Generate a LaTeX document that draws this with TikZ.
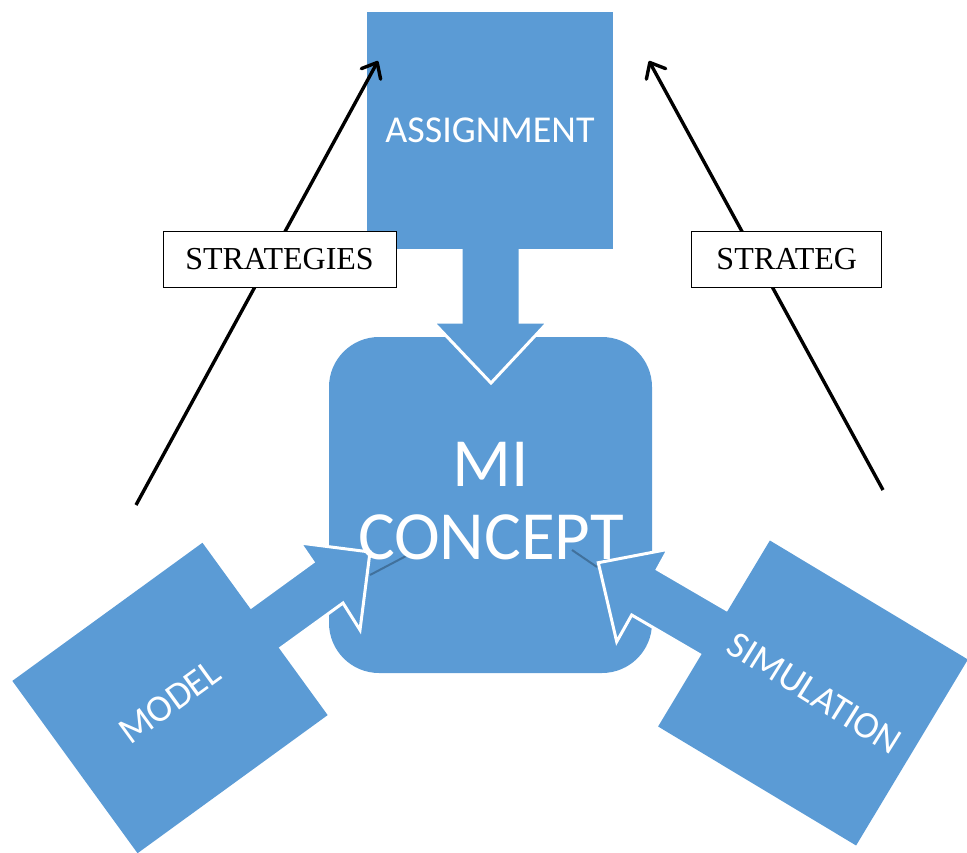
\documentclass[tikz,border=0pt]{standalone}
\usepackage{fontspec}
\setmainfont{Carlito}
\newfontfamily\timesf{Liberation Serif}
\usetikzlibrary{arrows.meta}
\definecolor{miblue}{HTML}{5B9BD5}
\definecolor{darkline}{HTML}{41719C}
\begin{document}
\begin{tikzpicture}[x=1pt,y=-1pt,
  bluebox/.style={fill=miblue, draw=none, inner sep=0pt, outer sep=0pt},
  blockarrow/.style={fill=miblue, draw=white, line width=3pt, line join=miter},
  boxtext/.style={text=white, font=\fontsize{38}{44}\selectfont, inner sep=0pt},
  bigtext/.style={text=white, font=\fontsize{69}{73}\selectfont, align=center, inner sep=0pt},
  stratline/.style={draw=black, line width=3.4pt, -{Straight Barb[length=13pt,width=22pt,round]}},
  labelbox/.style={draw=black, line width=0.8pt, fill=white, font=\timesf\fontsize{32}{36}\selectfont, inner sep=0pt, minimum height=56pt},
  faint/.style={draw=darkline, line width=2pt}
]
\useasboundingbox (0,0) rectangle (967,853);

% central rounded box
\node[bluebox, rounded corners=50pt, minimum width=323pt, minimum height=336pt] (mi) at (490.5,505) {};

% faint connector lines
\coordinate (fl1) at (370,575);
\coordinate (fl2) at (408,555);
\coordinate (fr1) at (572,550);
\coordinate (fr2) at (597,567);
\draw[faint] (fl1) -- (fl2);
\draw[faint] (fr1) -- (fr2);

% block arrows
\draw[blockarrow] (461,240) -- (461,322) -- (433,322) -- (491,383) -- (548,322) -- (520,322) -- (520,240) -- cycle;
\draw[blockarrow] (201.5,643) -- (313,562) -- (300,543) -- (370,552) -- (360,630) -- (343,603) -- (232.5,683) -- cycle;
\draw[blockarrow] (777.8,639.5) -- (657.3,569.3) -- (668.3,549.3) -- (598.3,562.7) -- (616.7,641.7) -- (631.7,615) -- (750,684) -- cycle;

% text of central box
\node[bigtext] (mitext) at (491,501) {MI\\CONCEPT};

% outer boxes
\node[bluebox, minimum width=246pt, minimum height=237pt] (assign) at (490,130.5) {};
\node[boxtext] (assigntext) at (490,130) {ASSIGNMENT};
\node[bluebox, rotate=36, minimum width=235pt, minimum height=213pt] (model) at (170,698) {};
\node[boxtext, rotate=36] (modeltext) at (170,702) {MODEL};
\node[bluebox, rotate=-31, minimum width=231pt, minimum height=217pt] (sim) at (813,693) {};
\node[boxtext, rotate=-32] (simtext) at (814.5,693) {SIMULATION};

% strategy arrows
\coordinate (la) at (136,505);
\coordinate (lb) at (378,61);
\coordinate (ra) at (883,490);
\coordinate (rb) at (649,61);
\draw[stratline] (la) -- (lb);
\draw[stratline] (ra) -- (rb);

% labels
\node[labelbox, minimum width=233pt] (s1) at (279.5,259) {STRATEGIES};
\node[labelbox, minimum width=190pt] (s2) at (786.7,259) {STRATEG};
\end{tikzpicture}
\end{document}
